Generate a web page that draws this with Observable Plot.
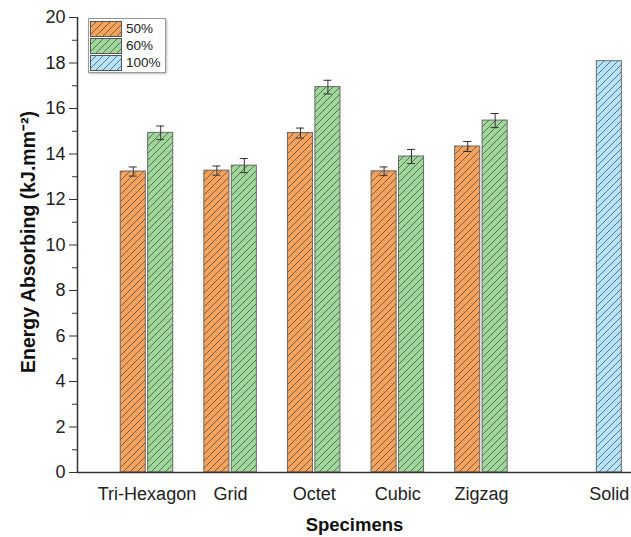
<!DOCTYPE html>
<html><head><meta charset="utf-8">
<script src="https://cdn.jsdelivr.net/npm/d3@7"></script>
<script src="https://cdn.jsdelivr.net/npm/@observablehq/plot@0.6"></script>
<style>
body{margin:0;overflow:hidden;background:#fff;font-family:"Liberation Sans",Arial,sans-serif}
#wrap{position:relative;width:631px;height:537px;overflow:hidden}
#legend{position:absolute;left:88px;top:18px;border:1.5px solid #999;background:#fff;box-shadow:1px 1px 2px #bbb;padding:1px 4px 1px 1px;font-size:13.5px;color:#222}
#legend .row{display:flex;align-items:center;height:17px}
#legend svg{margin-right:4px}
</style></head><body>
<svg id="defs" width="0" height="0" style="position:absolute"></svg>
<div id="wrap"><div id="legend"></div></div>
<script>
// ---- data ----
const categories = ["Tri-Hexagon", "Grid", "Octet", "Cubic", "Zigzag", "Solid"];
const positions = [1, 2, 3, 4, 5, 6.53];
const series = ["50%", "60%", "100%"];
const values50 = [13.23, 13.27, 14.92, 13.24, 14.33];
const errors50 = [0.2, 0.2, 0.22, 0.19, 0.22];
const values60 = [14.93, 13.49, 16.94, 13.89, 15.47];
const errors60 = [0.3, 0.31, 0.3, 0.31, 0.31];
const values100 = [18.08]; // Solid
const yTicks = [0, 2, 4, 6, 8, 10, 12, 14, 16, 18, 20];
const yMinor = [1, 3, 5, 7, 9, 11, 13, 15, 17, 19];

// ---- style ----
const colors = {"50%": "#F6A35E", "60%": "#9FD89A", "100%": "#B5E4FA"};
const ids = {"50%": "h50", "60%": "h60", "100%": "h100"};
const offsets = {"50%": -0.164, "60%": 0.164, "100%": 0};
const half = 0.15, cap = 0.048;
const xDomain = [0.169, 6.795];

// patterns
const defs = d3.select("#defs").append("defs");
for (const s of series) {
  const p = defs.append("pattern").attr("id", ids[s]).attr("patternUnits", "userSpaceOnUse")
    .attr("width", 7).attr("height", 7);
  p.append("rect").attr("width", 7).attr("height", 7).attr("fill", colors[s]);
  p.append("path").attr("d", "M-1,1 l2,-2 M0,7 l7,-7 M6,8 l2,-2")
    .attr("stroke", "#3a3a3a").attr("stroke-width", 0.9).attr("stroke-opacity", 0.75);
}

// table
const table = [];
values50.forEach((v, i) => table.push({series: "50%", cat: categories[i], pos: positions[i], value: v, err: errors50[i]}));
values60.forEach((v, i) => table.push({series: "60%", cat: categories[i], pos: positions[i], value: v, err: errors60[i]}));
values100.forEach((v, i) => table.push({series: "100%", cat: categories[5], pos: positions[5], value: v, err: null}));
table.forEach(d => { d.xc = d.pos + offsets[d.series]; d.x1 = d.xc - half; d.x2 = d.xc + half; });
const withErr = table.filter(d => d.err != null);

const barMarks = series.map(s => Plot.rectY(table.filter(d => d.series === s), {
  x1: "x1", x2: "x2", y1: 0, y2: "value", fill: `url(#${ids[s]})`, stroke: "#555", strokeWidth: 1, strokeOpacity: 0.85
}));

const chart = Plot.plot({
  width: 631, height: 537,
  marginTop: 17, marginBottom: 65, marginLeft: 77, marginRight: 0,
  style: {fontFamily: '"Liberation Sans", Arial, sans-serif', fontSize: "18px", color: "#222", background: "#fff"},
  x: {domain: xDomain, axis: null},
  y: {domain: [0, 20], axis: null},
  marks: [
    ...barMarks,
    Plot.ruleX(withErr, {x: "xc", y1: d => d.value - d.err, y2: d => d.value + d.err, stroke: "#333", strokeWidth: 1}),
    Plot.ruleY(withErr, {y: d => d.value + d.err, x1: d => d.xc - cap, x2: d => d.xc + cap, stroke: "#333", strokeWidth: 1}),
    Plot.ruleY(withErr, {y: d => d.value - d.err, x1: d => d.xc - cap, x2: d => d.xc + cap, stroke: "#333", strokeWidth: 1}),
    Plot.ruleY([0], {stroke: "#333", strokeWidth: 1.5}),
    Plot.ruleX([xDomain[0]], {stroke: "#333", strokeWidth: 1.5}),
    Plot.axisY(yTicks, {tickSize: 8, tickPadding: 4, label: null, stroke: "#333", fontSize: 18}),
    Plot.axisY(yMinor, {tickSize: 5, tickFormat: () => "", label: null, stroke: "#333"}),
    Plot.text(categories, {x: (d, i) => positions[i], text: d => d, frameAnchor: "bottom", lineAnchor: "middle", dy: 22, fontSize: 18, fill: "#222"}),
    Plot.text(["Specimens"], {frameAnchor: "bottom", lineAnchor: "middle", dy: 53, fontSize: 18.5, fontWeight: "bold", fill: "#111"}),
    Plot.text(["Energy Absorbing (kJ.mm⁻²)"], {frameAnchor: "left", textAnchor: "middle", rotate: -90, dx: -49, dy: -3, lineAnchor: "middle", fontSize: 19.5, fontWeight: "bold", fill: "#111", letterSpacing: "0.9px"})
  ]
});
document.getElementById("wrap").prepend(chart);

// legend
const leg = d3.select("#legend");
for (const s of series) {
  const row = leg.append("div").attr("class", "row");
  const sv = row.append("svg").attr("width", 32).attr("height", 16);
  sv.append("rect").attr("x", 0.5).attr("y", 0.5).attr("width", 31).attr("height", 15)
    .attr("fill", `url(#${ids[s]})`).attr("stroke", "#555");
  row.append("span").text(s);
}
</script>
</body></html>
